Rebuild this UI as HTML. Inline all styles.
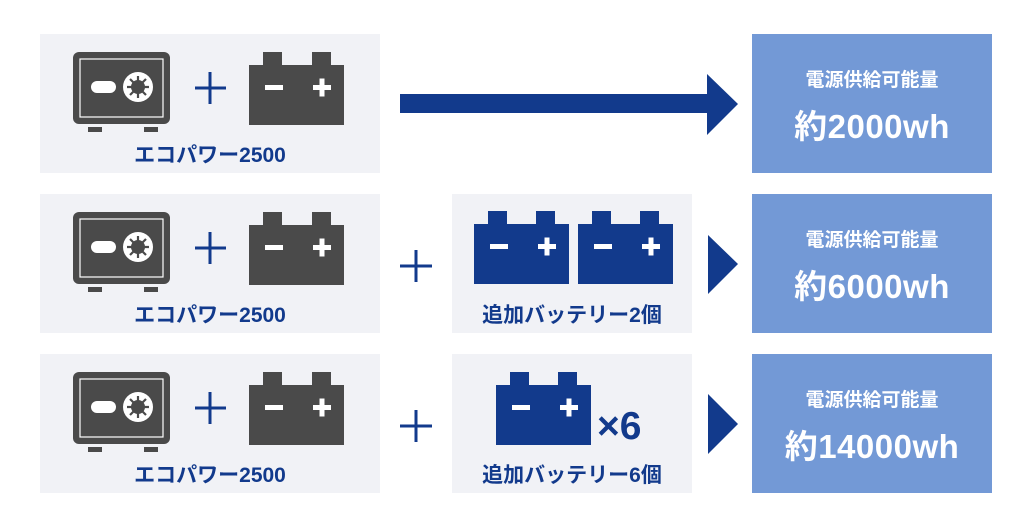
<!DOCTYPE html><html><head><meta charset="utf-8"><style>
body{margin:0;width:1032px;height:526px;background:#fff;position:relative;font-family:"Liberation Sans","Noto Sans CJK JP",sans-serif;overflow:hidden}
.p{position:absolute;background:#f1f2f6}
.r{position:absolute;left:752px;width:240px;height:139px;background:#7399d6;color:#fff;text-align:center;font-weight:bold}
.r .a{position:absolute;top:31px;width:100%;font-size:19px}
.r .b{position:absolute;top:66px;width:100%;font-size:33px;letter-spacing:0.5px}
.lbl{position:absolute;color:#123a8c;font-weight:bold;font-size:21px;text-align:center}
svg{position:absolute;left:0;top:0}
</style></head><body>
<div class="p" style="left:40px;top:34px;width:340px;height:139px"></div>
<div class="p" style="left:40px;top:194px;width:340px;height:139px"></div>
<div class="p" style="left:40px;top:354px;width:340px;height:139px"></div>
<div class="p" style="left:452px;top:194px;width:240px;height:139px"></div>
<div class="p" style="left:452px;top:354px;width:240px;height:139px"></div>
<svg width="1032" height="526">
<defs>
<g id="safe">
<rect x="73" y="52" width="97" height="72" rx="6" fill="#4a4a4a"/>
<rect x="80" y="59" width="83" height="58" fill="none" stroke="#fff" stroke-width="1.2"/>
<rect x="91" y="81" width="25" height="12" rx="6" fill="#fff"/>
<circle cx="138" cy="87" r="15" fill="#fff"/>
<circle cx="138" cy="87" r="7" fill="#4a4a4a"/>
<g stroke="#4a4a4a" stroke-width="2.2"><line x1="138" y1="76" x2="138" y2="98"/><line x1="127" y1="87" x2="149" y2="87"/><line x1="130" y1="79" x2="146" y2="95"/><line x1="146" y1="79" x2="130" y2="95"/></g>
<rect x="88" y="127" width="14" height="5" fill="#4a4a4a"/><rect x="144" y="127" width="14" height="5" fill="#4a4a4a"/>
<g stroke="#123a8c" stroke-width="3"><line x1="195" y1="88" x2="226" y2="88"/><line x1="210" y1="72" x2="210" y2="104"/></g>
<rect x="263" y="52" width="19" height="14" fill="#4a4a4a"/><rect x="312" y="52" width="19" height="14" fill="#4a4a4a"/>
<rect x="249" y="65" width="95" height="60" fill="#4a4a4a"/>
<rect x="265" y="85" width="18" height="5" fill="#fff"/><rect x="313" y="85" width="18" height="5" fill="#fff"/><rect x="319.5" y="78.5" width="5" height="18" fill="#fff"/>
</g>
<g id="bb">
<rect x="14" y="0" width="19" height="14" fill="#123a8c"/><rect x="62" y="0" width="19" height="14" fill="#123a8c"/>
<rect x="0" y="13" width="95" height="60" fill="#123a8c"/>
<rect x="16" y="33" width="18" height="5" fill="#fff"/><rect x="64" y="33" width="18" height="5" fill="#fff"/><rect x="70.5" y="26.5" width="5" height="18" fill="#fff"/>
</g>
</defs>
<use href="#safe"/><use href="#safe" y="160"/><use href="#safe" y="320"/>
<g stroke="#123a8c" stroke-width="3"><line x1="400" y1="266" x2="432" y2="266"/><line x1="416" y1="250" x2="416" y2="282"/><line x1="400" y1="426" x2="432" y2="426"/><line x1="416" y1="410" x2="416" y2="442"/></g>
<use href="#bb" x="474" y="211"/><use href="#bb" x="578" y="211"/><use href="#bb" x="496" y="372"/>
<rect x="400" y="94" width="310" height="19" fill="#123a8c"/>
<polygon points="707,74 738,104 707,135" fill="#123a8c"/>
<polygon points="708,235 738,264 708,294" fill="#123a8c"/>
<polygon points="708,394 738,424 708,454" fill="#123a8c"/>
</svg>
<div class="lbl" style="left:100px;width:220px;top:139px">エコパワー2500</div>
<div class="lbl" style="left:100px;width:220px;top:299px">エコパワー2500</div>
<div class="lbl" style="left:100px;width:220px;top:459px">エコパワー2500</div>
<div class="lbl" style="left:452px;width:240px;top:299px">追加バッテリー2個</div>
<div class="lbl" style="left:452px;width:240px;top:459px">追加バッテリー6個</div>
<div class="lbl" style="left:597px;top:405px;font-size:39px">×6</div>
<div class="r" style="top:34px"><div class="a">電源供給可能量</div><div class="b">約2000wh</div></div>
<div class="r" style="top:194px"><div class="a">電源供給可能量</div><div class="b">約6000wh</div></div>
<div class="r" style="top:354px"><div class="a">電源供給可能量</div><div class="b">約14000wh</div></div>
</body></html>
